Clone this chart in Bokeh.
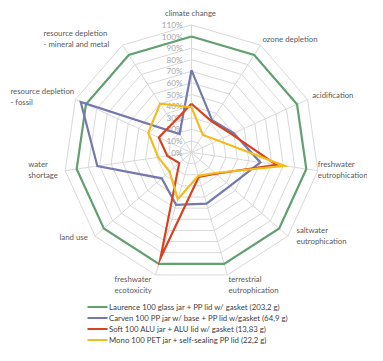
import numpy as np
from bokeh.plotting import figure
from bokeh.models import Range1d
from bokeh.core.properties import value
from bokeh.embed import file_html
from bokeh.resources import INLINE

# ---------------- data ----------------
categories = ["climate change", "ozone depletion", "acidification",
              "freshwater\neutrophication", "saltwater\neutrophication",
              "terrestrial\neutrophication", "freshwater\necotoxicity",
              "land use", "water\nshortage", "resource depletion\n- fossil",
              "resource depletion\n- mineral and metal"]
tick_values = [0, 10, 20, 30, 40, 50, 60, 70, 80, 90, 100, 110]
tick_labels = ["0%", "10%", "20%", "30%", "40%", "50%", "60%", "70%", "80%", "90%", "100%", "110%"]

series_names = ["Laurence 100 glass jar + PP lid w/ gasket (203,2 g)",
                "Carven 100 PP jar w/ base + PP lid w/gasket (64,9 g)",
                "Soft 100 ALU jar + ALU lid w/ gasket (13,83 g)",
                "Mono 100 PET jar + self-sealing PP lid (22,2 g)"]
laurence = [100, 100, 100, 100, 100, 100, 100, 100, 100, 100, 100]
carven = [71, 33, 40, 60, 44, 46, 47, 34, 82, 105, 19]
soft = [42, 32, 38, 74, 28, 22, 95, 14, 21, 31, 30]
mono = [39, 18, 25, 81, 27, 21, 42, 25, 29, 41, 50]

# ---------------- style / layout ----------------
colors = ["#62a070", "#7478ad", "#d8431f", "#f4bc1c"]
FONT = "Lato"
FS = "7.8px"
CX, CY = 191.0, 152.0      # pixel position of the radar centre
R = 1.16                   # pixels per percent
n = len(categories)
theta = np.arange(n) * 2 * np.pi / n
sx, sy = np.sin(theta), -np.cos(theta)

def pt(v, k):
    return CX + R * v * sx[k], CY + R * v * sy[k]

p = figure(width=367, height=345, x_range=Range1d(0, 367), y_range=Range1d(345, 0),
           output_backend="svg", toolbar_location=None, min_border=0)
p.axis.visible = False
p.grid.visible = False
p.outline_line_color = None
p.background_fill_color = "white"

# grid rings
for tv in tick_values[1:]:
    xs = [pt(tv, k)[0] for k in range(n)] + [pt(tv, 0)[0]]
    ys = [pt(tv, k)[1] for k in range(n)] + [pt(tv, 0)[1]]
    p.line(xs, ys, line_color="#d9d9d9", line_width=1)
# spokes
top = tick_values[-1]
p.segment(x0=[CX] * n, y0=[CY] * n, x1=[pt(top, k)[0] for k in range(n)],
          y1=[pt(top, k)[1] for k in range(n)], line_color="#d9d9d9", line_width=1)

# tick labels
p.text(x=[CX - 9] * len(tick_values), y=[CY - R * tv for tv in tick_values], text=tick_labels,
       text_font=value(FONT), text_font_size="8.2px", text_color="#a6a6a6",
       text_align="right", text_baseline="middle")

# series
for vals, c in zip([laurence, carven, soft, mono], colors):
    xs = [pt(v, k)[0] for k, v in enumerate(vals)]
    ys = [pt(v, k)[1] for k, v in enumerate(vals)]
    p.line(xs + xs[:1], ys + ys[:1], line_color=c, line_width=2.2, line_join="miter")

# category labels: anchor at outer ring + offset
label_offsets = [(-1, -11.5, "center"), (2, -6.5, "left"), (4.6, -4, "left"), (0, -1.5, "left"),
                 (8.6, -0.3, "left"), (1, 10, "left"), (-41, 10, "left"), (-7.3, 0.5, "right"),
                 (-37, -1.5, "left"), (-65, -3, "left"), (-79, -6.3, "left")]
LH = 11.0
for k, cat in enumerate(categories):
    ax, ay = pt(top, k)
    dx, dy, al = label_offsets[k]
    lines = cat.split("\n")
    y0 = ay + dy - (len(lines) - 1) * LH / 2
    p.text(x=[ax + dx] * len(lines), y=[y0 + i * LH for i in range(len(lines))], text=lines,
           text_font=value(FONT), text_font_size=FS, text_color="#595959",
           text_align=al, text_baseline="middle")

# legend
leg_y = [306.5 + i * 11.0 for i in range(len(series_names))]
p.segment(x0=[87] * 4, y0=leg_y, x1=[107] * 4, y1=leg_y, line_color=colors, line_width=2.2)
p.text(x=[108.5] * 4, y=leg_y, text=series_names, text_font=value(FONT), text_font_size=FS,
       text_color="#404040", text_align="left", text_baseline="middle")

open("out.html", "w").write(file_html(p, INLINE))
